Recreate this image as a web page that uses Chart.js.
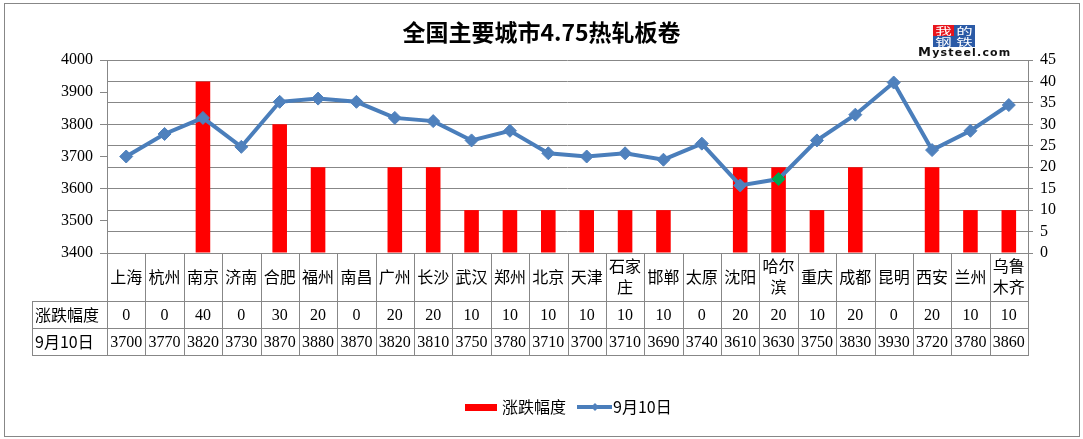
<!DOCTYPE html>
<html>
<head>
<meta charset="utf-8">
<title>全国主要城市4.75热轧板卷</title>
<script src="https://cdn.jsdelivr.net/npm/chart.js@4.4.1/dist/chart.umd.min.js"></script>
<style>
  html, body { margin: 0; padding: 0; background: #fff; }
  #wrap { position: relative; width: 1083px; height: 439px; }
  #logo { position: absolute; left: 918px; top: 25px; width: 100px; font-family: "Noto Sans CJK SC", sans-serif; }
  #logo .blocks { margin-left: 15px; display: grid; grid-template-columns: 21px 21px; grid-auto-rows: 11px; }
  #logo .blocks span { display: block; overflow: hidden; color: #fff; font-size: 11px; line-height: 11px; text-align: center; background: #2b5aa6; }
  #logo .blocks span.red { background: #e8141c; }
  #logo .blocks span i { display: inline-block; font-style: normal; transform: scale(1.5, 0.95); }
  #logo .brand { font-family: "DejaVu Sans", sans-serif; font-weight: bold; font-size: 11px; line-height: 10px; letter-spacing: 1.2px; color: #111; white-space: nowrap; }
  #logo .brand b { font-size: 13px; }
</style>
</head>
<body>
<div id="wrap">
  <canvas id="grafico"></canvas>
  <div id="logo">
    <div class="blocks"><span class="red"><i>我</i></span><span><i>的</i></span><span><i>钢</i></span><span><i>铁</i></span></div>
    <div class="brand"><b>M</b>ysteel.com</div>
  </div>
</div>
<script>
// dados
const cidades = ['上海', '杭州', '南京', '济南', '合肥', '福州', '南昌', '广州', '长沙', '武汉', '郑州', '北京',
  '天津', ['石家', '庄'], '邯郸', '太原', '沈阳', ['哈尔', '滨'], '重庆', '成都', '昆明', '西安', '兰州', ['乌鲁', '木齐']];
const variacao = [0, 0, 40, 0, 30, 20, 0, 20, 20, 10, 10, 10, 10, 10, 10, 0, 20, 20, 10, 20, 0, 20, 10, 10];
const precos = [3700, 3770, 3820, 3730, 3870, 3880, 3870, 3820, 3810, 3750, 3780, 3710, 3700, 3710, 3690, 3740,
  3610, 3630, 3750, 3830, 3930, 3720, 3780, 3860];
const nomeVariacao = '涨跌幅度';
const nomePreco = '9月10日';
const destaque = 17; // 哈尔滨 com marcador verde

const cinza = '#878787';
const fonteCJK = '"Noto Sans CJK SC", sans-serif';
const fonteNum = '"Liberation Serif", "Noto Sans CJK SC", serif';

const corPontos = precos.map((v, i) => i === destaque ? '#00a651' : '#4f81bd');

// fundo e moldura
const moldura = {
  id: 'moldura',
  beforeDraw(chart) {
    const ctx = chart.ctx;
    ctx.save();
    ctx.fillStyle = '#fff';
    ctx.fillRect(0, 0, chart.width, chart.height);
    ctx.strokeStyle = cinza;
    ctx.lineWidth = 1;
    ctx.strokeRect(4.5, 3.5, 1075, 433);
    ctx.restore();
  }
};

// tabela de dados e legenda
const tabela = {
  id: 'tabela',
  afterDraw(chart) {
    const ctx = chart.ctx;
    const x = chart.scales.x;
    const area = chart.chartArea;
    const meio = (x.getPixelForValue(1) - x.getPixelForValue(0)) / 2;
    const topo = area.bottom;
    const linhaCat = 301;
    const linha1 = 328;
    const linha2 = 355;
    const esquerda = 32;

    ctx.save();
    ctx.strokeStyle = cinza;
    ctx.lineWidth = 1;
    ctx.beginPath();
    [linhaCat, linha1, linha2].forEach(y => {
      ctx.moveTo(esquerda, Math.round(y) + 0.5);
      ctx.lineTo(area.right, Math.round(y) + 0.5);
    });
    ctx.moveTo(esquerda + 0.5, linhaCat);
    ctx.lineTo(esquerda + 0.5, linha2 + 1);
    for (let i = 0; i <= cidades.length; i++) {
      const px = i < cidades.length ? x.getPixelForValue(i) - meio : area.right;
      ctx.moveTo(Math.round(px) + 0.5, topo);
      ctx.lineTo(Math.round(px) + 0.5, linha2 + 1);
    }
    ctx.stroke();

    ctx.fillStyle = '#000';
    ctx.textAlign = 'center';
    ctx.textBaseline = 'middle';
    cidades.forEach((c, i) => {
      const cx = x.getPixelForValue(i);
      ctx.font = '16px ' + fonteCJK;
      if (Array.isArray(c)) {
        ctx.fillText(c[0], cx, 266);
        ctx.fillText(c[1], cx, 287);
      } else {
        ctx.fillText(c, cx, 277);
      }
      ctx.font = '16px ' + fonteNum;
      ctx.fillText(String(variacao[i]), cx, (linhaCat + linha1) / 2 + 1);
      ctx.fillText(String(precos[i]), cx, (linha1 + linha2) / 2 + 1);
    });

    ctx.textAlign = 'left';
    ctx.font = '16px ' + fonteCJK;
    ctx.fillText(nomeVariacao, esquerda + 3, (linhaCat + linha1) / 2);
    ctx.fillText(nomePreco, esquerda + 3, (linha1 + linha2) / 2);

    // legenda
    const ds = chart.data.datasets;
    const ly = 407;
    ctx.fillStyle = ds[0].backgroundColor;
    ctx.fillRect(465, ly - 3, 32, 7);
    ctx.fillStyle = '#000';
    ctx.font = '16px ' + fonteCJK;
    ctx.fillText(ds[0].label, 502, ly);

    ctx.strokeStyle = ds[1].borderColor;
    ctx.lineWidth = 4;
    ctx.beginPath();
    ctx.moveTo(577, ly);
    ctx.lineTo(612, ly);
    ctx.stroke();
    ctx.fillStyle = '#4f81bd';
    ctx.beginPath();
    ctx.moveTo(595, ly - 4);
    ctx.lineTo(599, ly);
    ctx.lineTo(595, ly + 4);
    ctx.lineTo(591, ly);
    ctx.closePath();
    ctx.fill();
    ctx.fillStyle = '#000';
    ctx.fillText(ds[1].label, 613, ly);
    ctx.restore();
  }
};

const ctx = document.getElementById('grafico').getContext('2d');
new Chart(ctx, {
  data: {
    labels: cidades,
    datasets: [{
      type: 'bar',
      label: nomeVariacao,
      data: variacao,
      backgroundColor: '#ff0000',
      yAxisID: 'y1',
      barPercentage: 0.38,
      categoryPercentage: 1,
      order: 2
    }, {
      type: 'line',
      label: nomePreco,
      data: precos,
      borderColor: '#4a7ebb',
      borderWidth: 4,
      tension: 0,
      pointStyle: 'rectRot',
      pointRadius: 6.5,
      pointBorderWidth: 1,
      pointBackgroundColor: corPontos,
      pointBorderColor: corPontos,
      yAxisID: 'y',
      order: 1
    }]
  },
  options: {
    responsive: true,
    maintainAspectRatio: false,
    animation: false,
    layout: { padding: { top: 0, bottom: 186, left: 0, right: 0 } },
    plugins: {
      legend: { display: false },
      tooltip: { enabled: false },
      title: {
        display: true,
        text: '全国主要城市4.75热轧板卷',
        color: '#000',
        font: { family: fonteCJK, size: 23, weight: 'bold', lineHeight: 1.2 },
        padding: { top: 18, bottom: 14.4 }
      }
    },
    scales: {
      x: {
        type: 'category',
        offset: true,
        grid: { display: false },
        ticks: { display: false },
        border: { display: true, color: cinza },
        afterFit(scale) { scale.height = 0; }
      },
      y: {
        position: 'left',
        min: 3400,
        max: 4000,
        ticks: {
          stepSize: 100, autoSkip: false, color: '#000', padding: 7,
          font: { family: fonteNum, size: 16 },
          callback: v => String(v)
        },
        grid: { drawOnChartArea: false, color: cinza, tickLength: 7 },
        border: { display: true, color: cinza },
        afterFit(scale) { scale.width = 107; }
      },
      y1: {
        position: 'right',
        min: 0,
        max: 45,
        ticks: {
          stepSize: 5, autoSkip: false, color: '#000', padding: 7,
          font: { family: fonteNum, size: 16 },
          callback: v => String(v)
        },
        grid: { color: cinza, tickLength: 5 },
        border: { display: true, color: cinza },
        afterFit(scale) { scale.width = 55; }
      }
    }
  },
  plugins: [moldura, tabela]
});
</script>
</body>
</html>
